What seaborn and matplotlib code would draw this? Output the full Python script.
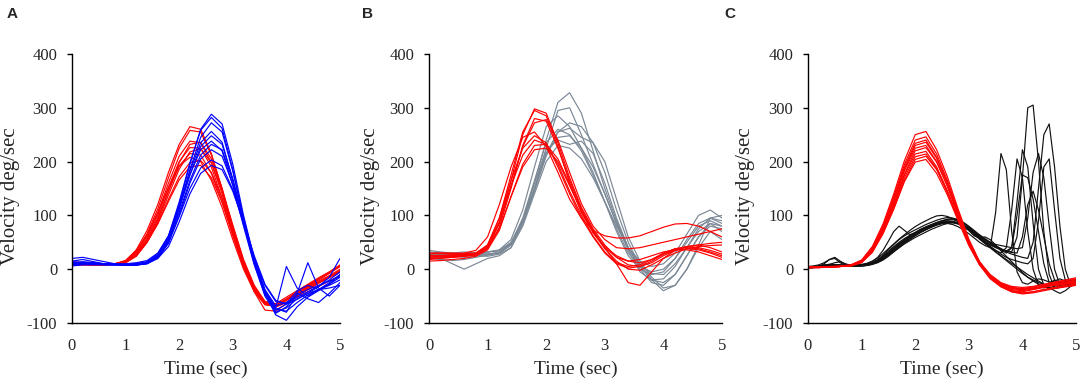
import matplotlib.pyplot as plt
import seaborn as sns
import numpy as np
import pandas as pd

# sample times (sec)
time_coarse = np.linspace(0, 5, 26)   # every 0.2 s
time_fine = np.linspace(0, 5, 51)     # every 0.1 s (fast bursts in C)

# ---- panel A : red vs blue trials (0.2 s samples) ----
a_red = [
    [12, 11, 10, 9, 10, 16, 36, 72, 120, 180, 232, 265, 260, 215, 150, 75, 10, -38, -65, -70, -58, -45, -32, -20, -8, 5],
    [8, 9, 8, 8, 9, 14, 32, 66, 112, 170, 225, 258, 255, 212, 148, 72, 8, -42, -76, -78, -64, -50, -37, -25, -14, -4],
    [10, 10, 11, 10, 10, 15, 30, 62, 105, 160, 210, 238, 235, 198, 140, 70, 8, -38, -64, -66, -55, -44, -33, -22, -12, 0],
    [14, 12, 10, 9, 9, 12, 25, 52, 92, 145, 198, 232, 236, 205, 150, 82, 18, -30, -60, -66, -57, -46, -34, -24, -14, -4],
    [9, 9, 9, 8, 9, 13, 28, 58, 100, 152, 200, 226, 225, 190, 132, 65, 4, -40, -66, -68, -56, -42, -30, -18, -6, 6],
    [7, 8, 8, 8, 9, 12, 24, 50, 88, 138, 186, 218, 224, 198, 146, 80, 16, -32, -62, -70, -62, -50, -38, -26, -14, -2],
    [11, 10, 10, 9, 10, 14, 27, 55, 95, 145, 192, 215, 212, 178, 125, 62, 5, -38, -62, -64, -52, -40, -28, -16, -5, 8],
    [10, 9, 8, 8, 10, 16, 34, 64, 105, 152, 192, 208, 200, 165, 115, 55, 0, -42, -66, -68, -56, -42, -30, -18, -6, 5],
    [12, 11, 10, 10, 10, 13, 25, 50, 85, 130, 172, 198, 202, 180, 132, 72, 12, -34, -60, -66, -58, -46, -36, -26, -16, -6],
    [8, 8, 8, 9, 10, 14, 26, 50, 84, 126, 166, 190, 193, 170, 124, 66, 10, -36, -64, -70, -62, -52, -42, -32, -22, -12],
]
a_blue = [
    [15, 18, 14, 10, 8, 7, 7, 11, 25, 58, 120, 195, 260, 288, 270, 195, 100, 20, -40, -75, -78, -62, -48, -38, -28, -15],
    [10, 12, 12, 10, 9, 9, 10, 14, 28, 62, 125, 198, 258, 282, 262, 185, 92, 12, -45, -80, -72, -55, -45, -38, -30, -20],
    [20, 22, 18, 14, 10, 8, 8, 10, 22, 52, 112, 185, 245, 272, 255, 182, 95, 18, -42, -85, -95, -70, -52, -40, -28, -10],
    [8, 10, 10, 9, 9, 10, 12, 16, 30, 62, 118, 182, 235, 256, 236, 165, 85, 10, -50, -82, -70, -45, -55, -62, -45, -25],
    [12, 14, 12, 10, 9, 9, 10, 12, 24, 55, 112, 175, 228, 248, 232, 168, 90, 15, -45, -76, -65, -40, -30, -38, -35, -30],
    [6, 8, 8, 8, 8, 8, 8, 12, 26, 58, 115, 176, 222, 238, 220, 155, 80, 8, -48, -72, 5, -35, -50, -38, -25, -10],
    [14, 12, 10, 8, 8, 8, 9, 12, 24, 52, 105, 165, 212, 232, 222, 165, 92, 20, -40, -72, -80, -45, 12, -35, -50, -30],
    [10, 10, 9, 9, 8, 8, 8, 10, 20, 48, 100, 160, 205, 222, 210, 158, 88, 18, -38, -68, -62, -48, -38, -30, -22, -14],
    [9, 10, 10, 9, 9, 9, 10, 13, 24, 50, 98, 150, 188, 203, 192, 148, 85, 20, -30, -60, -64, -52, -42, -32, -20, -5],
    [12, 12, 11, 10, 9, 9, 9, 11, 20, 42, 88, 140, 178, 193, 185, 145, 88, 25, -28, -58, -65, -56, -45, -32, -15, 20],
]

# ---- panel B : red vs gray trials (0.2 s samples) ----
b_red = [
    [22, 24, 25, 26, 28, 40, 85, 165, 250, 298, 290, 235, 170, 115, 75, 45, 22, 8, 5, 12, 25, 35, 42, 45, 40, 32],
    [28, 30, 30, 29, 30, 45, 95, 175, 255, 295, 285, 228, 160, 105, 68, 42, 25, 15, 12, 18, 28, 35, 38, 36, 30, 22],
    [25, 25, 24, 24, 26, 38, 78, 150, 230, 280, 275, 225, 165, 112, 72, 40, 10, -25, -30, -5, 20, 35, 42, 45, 48, 50],
    [20, 21, 22, 24, 28, 42, 85, 155, 228, 272, 278, 240, 180, 122, 80, 55, 40, 38, 40, 45, 50, 55, 60, 65, 70, 75],
    [30, 30, 29, 30, 35, 60, 120, 190, 245, 255, 228, 180, 130, 95, 72, 62, 58, 58, 62, 70, 78, 84, 85, 80, 70, 60],
    [18, 20, 22, 24, 28, 45, 95, 165, 225, 248, 235, 190, 140, 95, 60, 30, 10, 2, 5, 15, 28, 38, 42, 40, 35, 28],
    [25, 26, 27, 27, 30, 44, 88, 155, 212, 240, 232, 195, 145, 100, 62, 32, 12, 5, 8, 18, 30, 38, 40, 38, 32, 25],
    [15, 16, 18, 20, 24, 36, 72, 135, 195, 230, 232, 205, 158, 108, 70, 40, 22, 15, 18, 25, 32, 36, 36, 32, 25, 18],
    [22, 23, 24, 25, 28, 40, 75, 135, 190, 222, 225, 200, 155, 108, 68, 38, 15, 0, -2, 8, 20, 30, 38, 42, 44, 45],
]
b_gray = [
    [30, 28, 25, 22, 24, 28, 30, 45, 90, 160, 240, 310, 328, 290, 220, 150, 90, 40, 0, -25, -30, -10, 25, 60, 85, 80],
    [25, 20, 10, 0, 10, 20, 25, 40, 85, 150, 225, 295, 300, 250, 195, 140, 85, 35, -5, -20, -18, 5, 40, 75, 95, 90],
    [20, 22, 25, 28, 30, 32, 36, 55, 110, 190, 265, 285, 265, 225, 180, 125, 70, 25, 0, -10, -5, 20, 55, 85, 95, 85],
    [32, 30, 28, 28, 30, 32, 35, 50, 90, 150, 215, 255, 272, 265, 235, 180, 110, 50, 5, -20, -25, -10, 25, 60, 80, 75],
    [26, 28, 30, 32, 30, 28, 30, 45, 85, 145, 210, 255, 262, 245, 235, 200, 130, 60, 15, -15, -35, -30, 0, 45, 95, 100],
    [20, 18, 16, 18, 22, 26, 30, 48, 95, 165, 235, 260, 250, 220, 175, 125, 75, 30, 5, -5, 0, 20, 50, 80, 90, 80],
    [35, 32, 30, 28, 26, 28, 32, 46, 88, 150, 215, 245, 248, 225, 190, 140, 85, 38, 8, -8, -10, 10, 40, 70, 85, 70],
    [25, 25, 26, 28, 30, 32, 34, 48, 92, 160, 222, 240, 232, 238, 215, 160, 95, 40, 10, -20, -40, -30, 0, 40, 70, 55],
    [28, 28, 27, 26, 25, 24, 28, 40, 80, 140, 200, 230, 225, 205, 170, 125, 80, 40, 15, 5, 10, 30, 65, 100, 110, 95],
]

# ---- panel C : red (0.2 s samples) vs black (0.1 s samples) ----
c_red = [
    [3, 4, 4, 5, 8, 17, 42, 84, 140, 202, 250, 256, 222, 172, 112, 56, 14, -14, -30, -40, -42, -38, -34, -30, -27, -24],
    [3, 3, 4, 5, 7, 15, 40, 80, 135, 195, 240, 246, 214, 165, 108, 54, 12, -15, -32, -42, -45, -42, -38, -34, -30, -28],
    [4, 4, 5, 6, 8, 16, 39, 78, 131, 190, 234, 240, 208, 161, 104, 52, 12, -13, -28, -36, -38, -35, -31, -27, -24, -20],
    [3, 4, 4, 5, 7, 14, 36, 74, 127, 186, 230, 236, 206, 160, 105, 53, 13, -12, -27, -34, -36, -33, -29, -25, -22, -18],
    [3, 3, 4, 5, 7, 15, 37, 75, 126, 183, 225, 230, 200, 154, 100, 50, 10, -15, -30, -38, -40, -37, -33, -30, -28, -26],
    [3, 4, 4, 5, 6, 13, 33, 70, 120, 177, 220, 226, 199, 155, 102, 52, 14, -10, -25, -32, -34, -32, -28, -24, -20, -16],
    [3, 3, 4, 5, 7, 14, 35, 72, 120, 175, 214, 219, 190, 146, 95, 46, 8, -18, -33, -42, -46, -44, -40, -36, -33, -30],
    [4, 4, 5, 5, 7, 14, 34, 70, 117, 170, 209, 214, 187, 144, 94, 47, 10, -14, -28, -36, -38, -36, -32, -28, -25, -22],
    [3, 4, 4, 5, 6, 12, 31, 66, 112, 165, 204, 210, 185, 143, 95, 48, 12, -12, -26, -34, -37, -35, -32, -29, -26, -24],
    [3, 3, 4, 5, 7, 13, 33, 67, 112, 163, 199, 204, 178, 138, 90, 44, 8, -16, -31, -40, -44, -42, -38, -35, -32, -30],
]
c_black = [
    [3, 4, 6, 8, 9, 8, 7, 6, 6, 6, 7, 8, 11, 16, 24, 33, 42, 50, 57, 63, 68, 73, 77, 81, 84, 85,
     85, 83, 79, 73, 66, 58, 50, 44, 40, 105, 215, 185, 70, -5, -25, -28, -22, -18, -20, -24, -22, -18, -22, -26, -24],
    [2, 3, 5, 10, 18, 20, 12, 7, 6, 6, 6, 7, 10, 15, 22, 30, 38, 46, 53, 60, 66, 72, 77, 82, 86, 89,
     90, 89, 86, 81, 74, 66, 58, 50, 42, 35, 30, 40, 110, 205, 170, 70, 0, -30, -35, -28, -20, -25, -30, -24, -18],
    [4, 4, 5, 6, 7, 7, 7, 7, 7, 7, 8, 9, 12, 18, 26, 36, 46, 55, 62, 68, 73, 78, 83, 87, 91, 94,
     96, 95, 92, 86, 78, 70, 62, 55, 48, 42, 36, 30, 40, 125, 222, 190, 85, 0, -30, -38, -30, -22, -28, -32, -25],
    [3, 4, 5, 7, 9, 12, 14, 10, 7, 6, 6, 7, 9, 13, 20, 28, 37, 45, 52, 58, 64, 69, 74, 78, 82, 85,
     87, 88, 86, 82, 76, 69, 62, 55, 49, 43, 38, 34, 32, 60, 170, 300, 305, 200, 70, -10, -35, -30, -22, -28, -30],
    [3, 3, 4, 5, 6, 6, 6, 6, 6, 6, 7, 8, 10, 14, 20, 27, 35, 43, 50, 57, 63, 69, 74, 79, 83, 86,
     88, 88, 86, 81, 75, 68, 60, 52, 45, 40, 36, 34, 40, 100, 175, 170, 130, 70, 10, -25, -32, -25, -20, -26, -28],
    [4, 5, 6, 7, 8, 8, 8, 7, 7, 7, 8, 9, 11, 15, 21, 29, 38, 47, 55, 62, 68, 74, 79, 83, 87, 90,
     92, 92, 90, 85, 78, 70, 62, 55, 50, 46, 44, 42, 40, 38, 40, 95, 180, 215, 170, 80, 0, -30, -28, -22, -20],
    [3, 4, 5, 6, 7, 7, 7, 7, 7, 7, 7, 8, 10, 14, 19, 26, 34, 42, 50, 57, 64, 70, 76, 81, 86, 90,
     93, 94, 92, 87, 80, 72, 64, 57, 50, 44, 38, 32, 28, 25, 22, 20, 50, 150, 250, 270, 190, 80, 0, -30, -25],
    [2, 3, 4, 5, 6, 6, 6, 6, 6, 6, 6, 7, 9, 12, 17, 24, 32, 40, 48, 55, 62, 68, 73, 78, 82, 85,
     87, 87, 85, 80, 74, 66, 58, 50, 42, 35, 28, 22, 18, 15, 12, 10, 20, 90, 190, 205, 110, 20, -20, -30, -22],
    [5, 6, 8, 12, 18, 22, 15, 9, 7, 7, 8, 9, 12, 17, 24, 32, 40, 48, 55, 61, 67, 72, 77, 81, 84, 87,
     88, 88, 85, 80, 73, 66, 58, 52, 46, 41, 37, 34, 31, 30, 60, 120, 145, 110, 60, 10, -20, -30, -26, -20, -22],
    [3, 3, 4, 5, 6, 6, 6, 6, 6, 7, 8, 10, 14, 22, 35, 52, 70, 80, 72, 64, 68, 74, 78, 82, 86, 88,
     89, 88, 85, 80, 73, 65, 56, 48, 40, 32, 24, 16, 8, 0, -8, -15, -20, -25, -28, -30, -30, -28, -25, -22, -20],
    [4, 5, 6, 7, 8, 8, 8, 7, 7, 7, 7, 8, 10, 13, 18, 25, 33, 40, 47, 53, 59, 64, 69, 74, 78, 82,
     85, 86, 84, 80, 72, 62, 58, 60, 55, 45, 34, 24, 14, 4, -6, -15, -22, -28, -32, -35, -36, -34, -30, -26, -24],
    [3, 4, 5, 6, 7, 7, 7, 7, 7, 8, 9, 11, 15, 21, 29, 38, 47, 56, 64, 72, 79, 85, 90, 95, 99, 100,
     98, 94, 88, 80, 72, 64, 56, 48, 40, 32, 25, 18, 11, 4, -3, -10, -16, -22, -28, -34, -40, -45, -40, -32, -25],
]


def to_long(curves, times, prefix):
    rows = []
    for i, curve in enumerate(curves):
        for t, v in zip(times, curve):
            rows.append((f'{prefix}{i}', t, v))
    return pd.DataFrame(rows, columns=['trial', 'time', 'velocity'])


colors = {'red': '#ff0000', 'blue': '#0000ff', 'gray': '#7b8896', 'black': '#111111'}

sns.set_style('white')
plt.rcParams['font.family'] = ['Liberation Serif', 'DejaVu Serif']
plt.rcParams['axes.unicode_minus'] = False

fig = plt.figure(figsize=(10.84, 3.79), dpi=100)

# (letter, [(curves, times, colour) in drawing order], axes box, letter x px, ylabel x)
panels = [
    ('A', [(a_red, time_coarse, 'red'), (a_blue, time_coarse, 'blue')],
     [72 / 1084, 0.1478, 268 / 1084, 0.7098], 7, -0.194),
    ('B', [(b_gray, time_coarse, 'gray'), (b_red, time_coarse, 'red')],
     [429 / 1084, 0.1478, 293 / 1084, 0.7098], 362, -0.167),
    ('C', [(c_black, time_fine, 'black'), (c_red, time_coarse, 'red')],
     [808 / 1084, 0.1478, 268 / 1084, 0.7098], 724, -0.198),
]

for letter, groups, box, letter_x, ylab_x in panels:
    ax = fig.add_axes(box)
    for curves, times, col in groups:
        df = to_long(curves, times, letter + col)
        sns.lineplot(data=df, x='time', y='velocity', units='trial', estimator=None,
                     color=colors[col], linewidth=0.85, sort=False, ax=ax)
    ax.set_xlim(0, 5)
    ax.set_ylim(-100, 400)
    ax.set_xticks([0, 1, 2, 3, 4, 5])
    ax.set_yticks([-100, 0, 100, 200, 300, 400])
    for side in ['top', 'right']:
        ax.spines[side].set_visible(False)
    for side in ['left', 'bottom']:
        ax.spines[side].set_color('black')
        ax.spines[side].set_linewidth(1.0)
    ax.tick_params(axis='x', length=0, pad=10.5, labelsize=12)
    ax.tick_params(axis='y', length=3.6, width=1.0, direction='out', pad=7,
                   labelsize=12, left=True, color='black')
    ax.set_xlabel('Time (sec)', fontsize=14, labelpad=5)
    ax.set_ylabel('Velocity deg/sec', fontsize=15)
    ax.yaxis.set_label_coords(ylab_x, 0.47)
    fig.text(letter_x / 1084, 1 - 18 / 379, letter, fontsize=11, fontweight='bold',
             family='Liberation Sans', ha='left', va='baseline')

plt.savefig('out.png', dpi=100)
